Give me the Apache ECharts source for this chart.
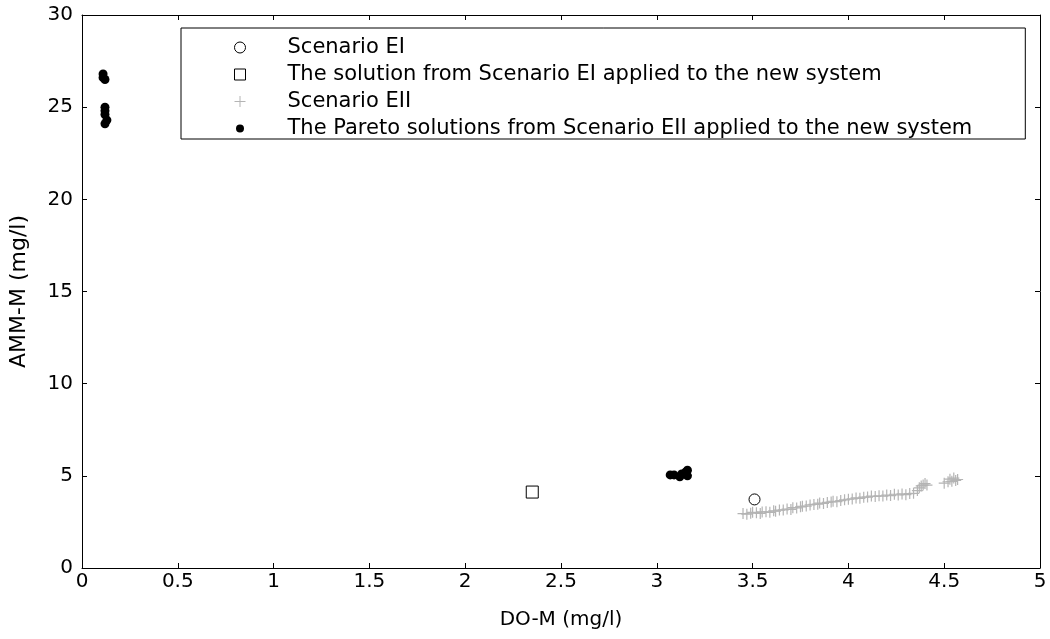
<!DOCTYPE html>
<html>
<head>
<meta charset="utf-8">
<script src="https://cdn.jsdelivr.net/npm/echarts@6/dist/echarts.min.js"></script>
<style>
  html, body { margin: 0; padding: 0; background: #fff; }
  #main { width: 1050px; height: 639px; }
</style>
</head>
<body>
<div id="main"></div>
<script>
// ---- data ----
var xTicks = [0, 0.5, 1, 1.5, 2, 2.5, 3, 3.5, 4, 4.5, 5];
var yTicks = [0, 5, 10, 15, 20, 25, 30];

var seriesNames = [
    "Scenario EI",
    "The solution from Scenario EI applied to the new system",
    "Scenario EII",
    "The Pareto solutions from Scenario EII applied to the new system"
];

var eiX = [3.51];
var eiY = [3.72];

var solX = [2.35];
var solY = [4.12];

var eiiX = [3.45, 3.47, 3.49, 3.50, 3.52, 3.54, 3.55, 3.57, 3.59, 3.61, 3.62, 3.64, 3.66, 3.68, 3.70, 3.71,
    3.73, 3.75, 3.76, 3.78, 3.80, 3.82, 3.84, 3.85, 3.87, 3.89, 3.91, 3.92, 3.94, 3.96, 3.98, 4.00,
    4.02, 4.04, 4.06, 4.08, 4.10, 4.12, 4.14, 4.16, 4.18, 4.20, 4.22, 4.24, 4.26, 4.28, 4.30, 4.32, 4.34,
    4.36, 4.37, 4.38, 4.39, 4.40, 4.41,
    4.50, 4.52, 4.53, 4.54, 4.55, 4.56, 4.57];
var eiiY = [2.95, 2.92, 2.97, 3.02, 3.00, 2.96, 3.04, 3.05, 3.02, 3.10, 3.08, 3.14, 3.15, 3.20, 3.18, 3.27,
    3.26, 3.32, 3.35, 3.36, 3.42, 3.45, 3.46, 3.52, 3.50, 3.56, 3.58, 3.62, 3.60, 3.66, 3.70, 3.73,
    3.75, 3.80, 3.78, 3.84, 3.85, 3.90, 3.88, 3.92, 3.90, 3.96, 3.93, 4.00, 3.96, 4.02, 3.98, 4.04, 4.05,
    4.20, 4.35, 4.45, 4.50, 4.58, 4.50,
    4.60, 4.68, 4.82, 4.70, 4.88, 4.75, 4.80];

var paretoX = [0.11, 0.11, 0.12, 0.12, 0.12, 0.12, 0.13, 0.12,
    3.07, 3.09, 3.12, 3.13, 3.15, 3.16, 3.16];
var paretoY = [26.8, 26.6, 26.5, 25.0, 24.8, 24.6, 24.3, 24.1,
    5.05, 5.05, 4.95, 5.10, 5.20, 5.00, 5.30];

function pairs(xs, ys) {
    return xs.map(function (x, i) { return [x, ys[i]]; });
}

var plusPath = "path://M0,5L10,5M5,0L5,10";
var font = "DejaVu Sans, sans-serif";

var chart = echarts.init(document.getElementById("main"));

var axisCommon = {
    type: "value",
    axisLine: { show: true, onZero: false, lineStyle: { color: "#000", width: 1 } },
    axisTick: { show: true, inside: true, length: 5, lineStyle: { color: "#000" } },
    splitLine: { show: false },
    axisLabel: { color: "#000", fontSize: 20, fontFamily: font }
};

chart.setOption({
    backgroundColor: "#fff",
    animation: false,
    grid: { left: 82, right: 10, top: 15, bottom: 71, containLabel: false, outerBoundsMode: "none" },
    xAxis: [
        Object.assign({}, axisCommon, {
            min: 0, max: 5, interval: 0.5, position: "bottom",
            name: "DO-M (mg/l)", nameLocation: "middle", nameGap: 42,
            nameTextStyle: { color: "#000", fontSize: 20, fontFamily: font },
            axisLabel: Object.assign({}, axisCommon.axisLabel, { margin: 4 })
        }),
        Object.assign({}, axisCommon, {
            min: 0, max: 5, interval: 0.5, position: "top",
            axisLabel: { show: false }
        })
    ],
    yAxis: [
        Object.assign({}, axisCommon, {
            min: 0, max: 30, interval: 5, position: "left",
            name: "AMM-M (mg/l)", nameLocation: "middle", nameGap: 52,
            nameTextStyle: { color: "#000", fontSize: 22, fontFamily: font },
            axisLabel: Object.assign({}, axisCommon.axisLabel, { margin: 9 })
        }),
        Object.assign({}, axisCommon, {
            min: 0, max: 30, interval: 5, position: "right",
            axisLabel: { show: false }
        })
    ],
    legend: {
        orient: "vertical",
        left: 181,
        top: 28,
        backgroundColor: "#fff",
        borderColor: "#000",
        borderWidth: 1,
        borderRadius: 0,
        padding: [9, 53, 0, 51],
        itemGap: 6,
        itemWidth: 11,
        itemHeight: 11,
        textStyle: { color: "#000", fontSize: 21, fontFamily: font, padding: [0, 0, 0, 37] },
        data: [
            { name: seriesNames[0], icon: "circle", itemStyle: { color: "#fff", borderColor: "#000", borderWidth: 1 } },
            { name: seriesNames[1], icon: "rect", itemStyle: { color: "#fff", borderColor: "#000", borderWidth: 1 } },
            { name: seriesNames[2], icon: plusPath, itemStyle: { color: "none", borderColor: "#b4b4b4", borderWidth: 1 } },
            { name: seriesNames[3], icon: "circle", itemStyle: { color: "#000", borderWidth: 3, borderColor: "#fff" } }
        ]
    },
    series: [
        {
            name: seriesNames[2], type: "scatter", data: pairs(eiiX, eiiY),
            symbol: plusPath, symbolSize: 11,
            itemStyle: { color: "none", borderColor: "#b4b4b4", borderWidth: 1.2, opacity: 1 }
        },
        {
            name: seriesNames[0], type: "scatter", data: pairs(eiX, eiY),
            symbol: "circle", symbolSize: 11,
            itemStyle: { color: "#fff", borderColor: "#000", borderWidth: 1, opacity: 1 }
        },
        {
            name: seriesNames[1], type: "scatter", data: pairs(solX, solY),
            symbol: "rect", symbolSize: 12,
            itemStyle: { color: "#fff", borderColor: "#000", borderWidth: 1, opacity: 1 }
        },
        {
            name: seriesNames[3], type: "scatter", data: pairs(paretoX, paretoY),
            symbol: "circle", symbolSize: 9,
            itemStyle: { color: "#000", opacity: 1 }
        }
    ]
});
</script>
</body>
</html>
